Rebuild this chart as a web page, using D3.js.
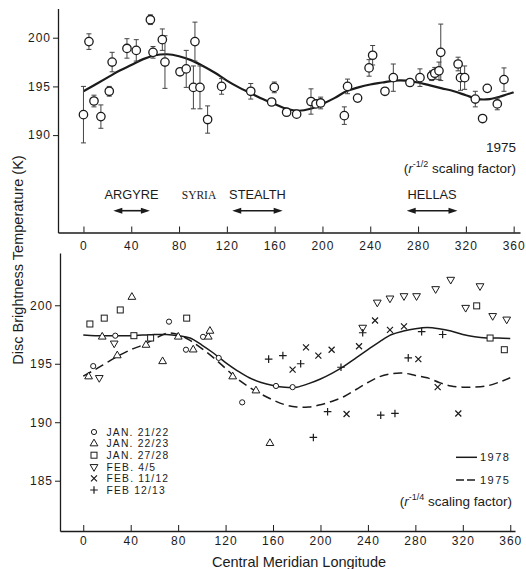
<!DOCTYPE html>
<html>
<head>
<meta charset="utf-8">
<script src="https://cdn.jsdelivr.net/npm/d3@7"></script>
<style>
  body { margin: 0; background: #fff; }
  svg { display: block; font-family: "Liberation Sans", Arial, sans-serif; }
</style>
</head>
<body>
<svg id="chart" width="526" height="569"></svg>
<script>
// ---- data ----
const lonTicks = [0, 40, 80, 120, 160, 200, 240, 280, 320, 360];
const topTempTicks = [190, 195, 200];
const botTempTicks = [185, 190, 195, 200];

// 1975 observations, r^-1/2 scaling
const topLon  = [0, 4.6, 8.8, 14.6, 21.6, 24, 36.4, 44.2, 56, 58.2, 66, 68.2, 80.8, 86, 92, 93.3, 97.5, 103.9, 115.6,
                 140, 157.5, 159.7, 170, 178.4, 190.4, 194.6, 198.5, 218.3, 221, 229.4, 239, 242, 252.3, 259.3, 273.2,
                 281.6, 291.4, 294, 297.5, 299, 313.5, 315.5, 319, 327.9, 334, 337.9, 346.3, 351.9];
const topTemp = [192.1, 199.6, 193.5, 191.9, 194.5, 197.5, 198.9, 198.7, 201.85, 198.5, 199.8, 197.5, 196.5, 196.8, 194.9, 199.6, 194.9, 191.6, 195.0,
                 194.5, 193.4, 194.9, 192.35, 192.15, 193.45, 193.2, 193.3, 192.0, 195.0, 193.8, 196.9, 198.2, 194.5, 195.9, 195.4,
                 195.9, 196.1, 196.35, 196.6, 198.5, 197.3, 195.9, 195.9, 193.7, 191.7, 194.8, 193.2, 195.7];
const topErr  = [2.9, 0.8, 0.6, 1.2, 0.5, 1.0, 1.0, 1.1, 0.5, 0.6, 1.1, 2.7, 0, 1.9, 2.2, 2.0, 2.2, 1.4, 0.8,
                 0.8, 0, 0.55, 0, 0, 1.3, 0, 0.6, 0.9, 0.75, 0, 0.85, 1.0, 0, 1.4, 0,
                 0.9, 0.5, 0.6, 0.9, 2.9, 0.7, 1.3, 1.2, 0.8, 0, 0, 0.6, 1.2];

// fitted curves (every 10 deg)
const curveLon = d3.range(0, 361, 10);
const fit1975Top = [194.5, 195.2, 195.9, 196.6, 197.2, 197.8, 198.2, 198.3, 198.1, 197.7, 197.1, 196.4, 195.6, 194.9, 194.3, 193.7,
                    193.2, 192.7, 192.5, 192.7, 193.2, 193.8, 194.5, 194.9, 195.2, 195.4, 195.6, 195.6, 195.4, 195.1, 194.8,
                    194.5, 194.1, 193.7, 193.7, 194.0, 194.4];
const fit1978 = [197.45, 197.4, 197.4, 197.4, 197.4, 197.45, 197.5, 197.5, 197.4, 197.2, 196.6, 195.9, 195.1, 194.4, 193.8, 193.4,
                 193.15, 193.0, 193.0, 193.3, 193.7, 194.2, 194.8, 195.5, 196.2, 196.9, 197.5, 197.8, 198.0, 198.1, 198.0,
                 197.8, 197.5, 197.3, 197.2, 197.2, 197.15];
const fit1975Bot = [193.95, 194.5, 195.1, 195.7, 196.2, 196.6, 197.1, 197.6, 197.5, 197.0, 196.3, 195.5, 194.6, 193.7, 193.0, 192.4,
                    191.9, 191.5, 191.3, 191.3, 191.5, 191.8, 192.2, 192.8, 193.4, 193.9, 194.15, 194.2, 194.0, 193.8, 193.4,
                    193.1, 193.0, 193.0, 193.1, 193.4, 193.8];

// 1978 observations, r^-1/4 scaling
const seriesNames = ["JAN. 21/22", "JAN. 22/23", "JAN. 27/28", "FEB. 4/5", "FEB. 11/12", "FEB 12/13"];
const jan21Lon  = [8.4, 27, 72.3, 86.6, 101, 114.2, 134, 162.5, 176.5];
const jan21Temp = [194.8, 197.4, 198.6, 196.2, 197.3, 195.5, 191.7, 193.1, 193.0];
const jan22Lon  = [4.5, 16, 28.7, 41, 52.9, 66.9, 80.1, 92.7, 105.4, 106.8, 126, 145.6, 157.4];
const jan22Temp = [193.9, 197.3, 195.7, 200.7, 196.6, 195.2, 197.3, 196.2, 197.3, 197.8, 193.9, 192.7, 188.2];
const jan27Lon  = [5.6, 17.7, 31.2, 42.7, 56.8, 87.2, 331.7, 343, 355];
const jan27Temp = [198.4, 198.9, 199.6, 197.4, 197.2, 198.9, 199.95, 197.2, 196.2];
const feb4Lon   = [13.5, 26.1, 235.6, 247.9, 258.6, 270.4, 281, 297.1, 309.8, 322.4, 334.5, 345.2, 357];
const feb4Temp  = [193.8, 196.75, 198.1, 200.25, 200.6, 200.8, 200.8, 201.4, 202.2, 199.8, 201.65, 199.1, 198.8];
const feb11Lon  = [176.5, 187.8, 198.2, 209.4, 222, 232.5, 246, 258.6, 270.4, 282.5, 298.8, 316.2];
const feb11Temp = [194.5, 196.4, 195.7, 196.2, 190.7, 196.5, 198.7, 197.9, 198.2, 195.4, 193.0, 190.75];
const feb12Lon  = [156.3, 168.3, 183.3, 194, 206, 217.3, 235.6, 250.8, 262.8, 274, 285.3, 303];
const feb12Temp = [195.4, 195.7, 195.0, 188.7, 190.9, 194.7, 197.65, 190.6, 190.75, 195.5, 197.75, 197.5];

// regions marked in the upper panel
const regionNames = ["ARGYRE", "SYRIA", "STEALTH", "HELLAS"];
const regionStart = [25, null, 124.5, 270.5];
const regionEnd   = [55.6, null, 166.7, 313];
const regionMid   = [40.3, 96.7, 145.6, 291.7];

// ---- drawing ----
const ink = "#1b1b1b";
const svg = d3.select("#chart");

const xTop = d3.scaleLinear().domain([-21.3, 365.3]).range([58, 520]);
const yTop = d3.scaleLinear().domain([180, 203]).range([232.5, 8.5]);
const xBot = d3.scaleLinear().domain([-19.6, 364]).range([60, 515]);
const yBot = d3.scaleLinear().domain([180.7, 204.47]).range([531, 253]);

function styleAxis(g) {
  g.selectAll("path.domain").attr("stroke", ink).attr("stroke-width", 1.3);
  g.selectAll(".tick line").attr("stroke", ink).attr("stroke-width", 1);
  g.selectAll(".tick text").attr("fill", ink)
    .attr("font-family", "'Liberation Sans', Arial, sans-serif")
    .attr("font-size", 12).attr("letter-spacing", 1);
}

// upper panel axes
svg.append("g").attr("transform", "translate(0,232.5)")
  .call(d3.axisBottom(xTop).tickValues(lonTicks).tickSizeInner(-6).tickSizeOuter(0).tickPadding(9))
  .call(styleAxis);
svg.append("g").attr("transform", "translate(58,0)")
  .call(d3.axisLeft(yTop).tickValues(topTempTicks).tickSizeInner(5).tickSizeOuter(0).tickPadding(2))
  .call(styleAxis);

// lower panel axes
svg.append("g").attr("transform", "translate(0,531)")
  .call(d3.axisBottom(xBot).tickValues(lonTicks).tickSizeInner(-6).tickSizeOuter(0).tickPadding(5))
  .call(styleAxis);
svg.append("g").attr("transform", "translate(60,0)")
  .call(d3.axisLeft(yBot).tickValues(botTempTicks).tickSizeInner(5).tickSizeOuter(0).tickPadding(2))
  .call(styleAxis);

// upper panel: fit curve
const lineTop = d3.line().x((d, i) => xTop(curveLon[i])).y(d => yTop(d)).curve(d3.curveCatmullRom);
svg.append("path").attr("d", lineTop(fit1975Top))
  .attr("fill", "none").attr("stroke", ink).attr("stroke-width", 2.2);

// upper panel: error bars + circles
const topPts = topLon.map((lon, i) => ({ lon, t: topTemp[i], e: topErr[i] }));
const bars = svg.append("g").selectAll("g").data(topPts.filter(d => d.e > 0)).enter().append("g")
  .attr("stroke", "#444").attr("stroke-width", 1);
bars.append("line")
  .attr("x1", d => xTop(d.lon)).attr("x2", d => xTop(d.lon))
  .attr("y1", d => yTop(d.t + d.e)).attr("y2", d => yTop(d.t - d.e));
bars.append("line")
  .attr("x1", d => xTop(d.lon) - 2.5).attr("x2", d => xTop(d.lon) + 2.5)
  .attr("y1", d => yTop(d.t + d.e)).attr("y2", d => yTop(d.t + d.e));
bars.append("line")
  .attr("x1", d => xTop(d.lon) - 2.5).attr("x2", d => xTop(d.lon) + 2.5)
  .attr("y1", d => yTop(d.t - d.e)).attr("y2", d => yTop(d.t - d.e));

svg.append("g").selectAll("circle").data(topPts).enter().append("circle")
  .attr("cx", d => xTop(d.lon)).attr("cy", d => yTop(d.t)).attr("r", 4.2)
  .attr("fill", "#fff").attr("stroke", ink).attr("stroke-width", 1.3);

// upper panel: labels
svg.append("text").attr("x", 516).attr("y", 152).attr("text-anchor", "end")
  .attr("font-size", 13.5).attr("fill", ink).text("1975");
const sc1 = svg.append("text").attr("x", 516).attr("y", 173).attr("text-anchor", "end")
  .attr("font-size", 13.5).attr("fill", ink);
sc1.append("tspan").text("(");
sc1.append("tspan").attr("font-style", "italic").text("r");
sc1.append("tspan").attr("font-size", 9).attr("dy", -6).text("-1/2");
sc1.append("tspan").attr("dy", 6).text(" scaling factor)");

// regions with arrows
const regions = regionNames.map((name, i) => ({ name, a: regionStart[i], b: regionEnd[i], m: regionMid[i] }));
svg.append("g").selectAll("text").data(regions).enter().append("text")
  .attr("x", d => xTop(d.m)).attr("y", 199).attr("text-anchor", "middle").attr("fill", ink)
  .attr("font-family", d => d.name === "SYRIA" ? "'Liberation Serif', 'Times New Roman', serif" : null)
  .attr("font-size", d => d.name === "SYRIA" ? 11.5 : 12.8)
  .text(d => d.name);

const arrows = svg.append("g").selectAll("g").data(regions.filter(d => d.a !== null)).enter().append("g");
arrows.append("line")
  .attr("x1", d => xTop(d.a) + 4).attr("x2", d => xTop(d.b) - 4).attr("y1", 210.7).attr("y2", 210.7)
  .attr("stroke", ink).attr("stroke-width", 1.6);
arrows.append("path")
  .attr("d", d => {
    const a = xTop(d.a), b = xTop(d.b), y = 210.7;
    return `M${a},${y}L${a + 9},${y - 3}L${a + 9},${y + 3}Z M${b},${y}L${b - 9},${y - 3}L${b - 9},${y + 3}Z`;
  })
  .attr("fill", ink);

// lower panel: fit curves
const lineBot = d3.line().x((d, i) => xBot(curveLon[i])).y(d => yBot(d)).curve(d3.curveCatmullRom);
svg.append("path").attr("d", lineBot(fit1978))
  .attr("fill", "none").attr("stroke", ink).attr("stroke-width", 1.5);
svg.append("path").attr("d", lineBot(fit1975Bot))
  .attr("fill", "none").attr("stroke", ink).attr("stroke-width", 1.5).attr("stroke-dasharray", "9,5");

// lower panel: symbols
function marker(sel, kind) {
  if (kind === "circle") {
    sel.append("circle").attr("r", 2.6).attr("fill", "#fff").attr("stroke", ink).attr("stroke-width", 1);
  } else if (kind === "tri" || kind === "dtri") {
    sel.append("path").attr("d", d3.symbol(d3.symbolTriangle, 26)())
      .attr("transform", kind === "dtri" ? "rotate(180)" : null)
      .attr("fill", "#fff").attr("stroke", ink).attr("stroke-width", 1);
  } else if (kind === "square") {
    sel.append("rect").attr("x", -3).attr("y", -3).attr("width", 6).attr("height", 6)
      .attr("fill", "#fff").attr("stroke", ink).attr("stroke-width", 1);
  } else if (kind === "plus") {
    sel.append("path").attr("d", "M-3.8,0H3.8M0,-3.8V3.8").attr("stroke", ink).attr("stroke-width", 1.2);
  } else if (kind === "times") {
    sel.append("path").attr("d", "M-3,-3L3,3M-3,3L3,-3").attr("stroke", ink).attr("stroke-width", 1.2);
  }
}

const seriesKinds = ["circle", "tri", "square", "dtri", "times", "plus"];
const seriesLon = [jan21Lon, jan22Lon, jan27Lon, feb4Lon, feb11Lon, feb12Lon];
const seriesTemp = [jan21Temp, jan22Temp, jan27Temp, feb4Temp, feb11Temp, feb12Temp];

seriesKinds.forEach((kind, s) => {
  const pts = seriesLon[s].map((lon, i) => ({ lon, t: seriesTemp[s][i] }));
  const g = svg.append("g").selectAll("g").data(pts).enter().append("g")
    .attr("transform", d => `translate(${xBot(d.lon)},${yBot(d.t)})`);
  marker(g, kind);
});

// lower panel legend (left)
const legendRows = svg.append("g").selectAll("g").data(seriesNames).enter().append("g")
  .attr("transform", (d, i) => `translate(94,${432 + i * 11.6})`);
legendRows.each(function (d, i) { marker(d3.select(this), seriesKinds[i]); });
legendRows.append("text").attr("x", 12.5).attr("dy", "0.36em")
  .attr("font-size", 10.3).attr("letter-spacing", 1.2).attr("fill", ink).text(d => d);

// lower panel legend (right)
const fitNames = ["1978", "1975"];
const fitLeg = svg.append("g").selectAll("g").data(fitNames).enter().append("g")
  .attr("transform", (d, i) => `translate(456,${457.3 + i * 22.7})`);
fitLeg.append("line").attr("x1", 0).attr("x2", 21).attr("y1", 0).attr("y2", 0)
  .attr("stroke", ink).attr("stroke-width", 1.5)
  .attr("stroke-dasharray", (d, i) => i === 1 ? "8,3" : null);
fitLeg.append("text").attr("x", 24).attr("dy", "0.36em").attr("font-size", 11)
  .attr("letter-spacing", 1.5).attr("fill", ink).text(d => d);

const sc2 = svg.append("text").attr("x", 512).attr("y", 506).attr("text-anchor", "end")
  .attr("font-size", 13.5).attr("fill", ink);
sc2.append("tspan").text("(");
sc2.append("tspan").attr("font-style", "italic").text("r");
sc2.append("tspan").attr("font-size", 9).attr("dy", -6).text("-1/4");
sc2.append("tspan").attr("dy", 6).text(" scaling factor)");

// axis titles
svg.append("text").attr("x", 299).attr("y", 567).attr("text-anchor", "middle")
  .attr("font-size", 14.5).attr("fill", ink).text("Central Meridian Longitude");
svg.append("text").attr("transform", "translate(23,260) rotate(-90)").attr("text-anchor", "middle")
  .attr("font-size", 14.5).attr("fill", ink).text("Disc Brightness Temperature (K)");
</script>
</body>
</html>
